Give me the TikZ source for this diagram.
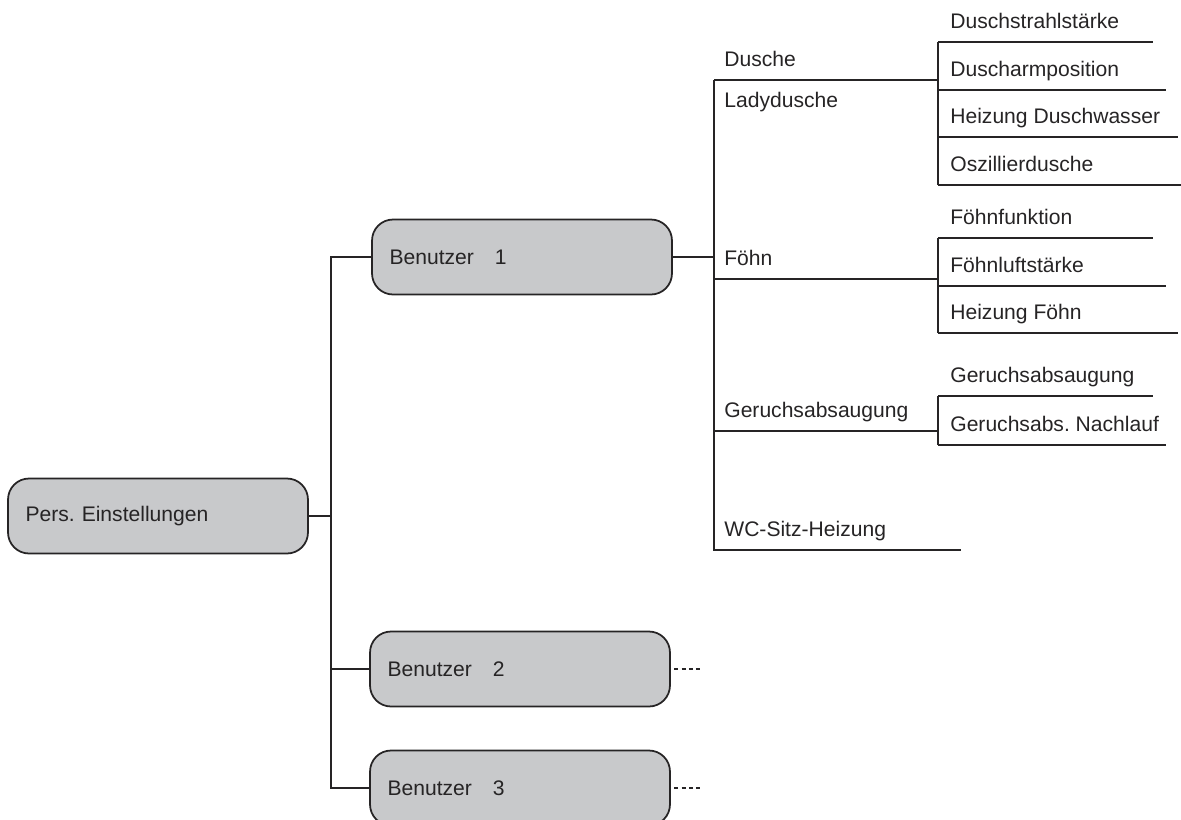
\documentclass[tikz,border=0pt]{standalone}
\usepackage{fontspec}
\setmainfont{Liberation Sans}
\frenchspacing
\usetikzlibrary{positioning}
\definecolor{boxgray}{RGB}{200,201,203}
\definecolor{inkgray}{RGB}{38,36,37}
\tikzset{
  menubox/.style={draw=inkgray, line width=1pt, fill=boxgray, rounded corners=0.42cm,
    minimum width=6cm, minimum height=1.5cm, text width=5.3cm, align=left,
    inner xsep=0.35cm, text=inkgray, font=\fontsize{12}{14}\selectfont},
  entry/.style={anchor=base west, inner sep=0pt, text=inkgray, font=\fontsize{12}{14}\selectfont},
  branch/.style={draw=inkgray, line width=0.75pt},
  more/.style={draw=inkgray, line width=0.75pt, dash pattern=on 2.3pt off 1.8pt},
}
\begin{document}
\frenchspacing
\begin{tikzpicture}[x=0.02cm, y=-0.02cm]
\useasboundingbox (0,0) rectangle (1181,819);
% main menu and users
\node[menubox] (pers) at (158,516) {Pers. Einstellungen};
\node[menubox] (ben1) at (522,257) {Benutzer\ \ \ 1};
\node[menubox] (ben2) at (520,669) {Benutzer\ \ \ 2};
\node[menubox] (ben3) at (520,788) {Benutzer\ \ \ 3};
\coordinate (tA) at (331,0);
\draw[branch] (pers.east) -- (pers.east -| tA);
\draw[branch] (ben1.west) -| (tA |- ben3.west) -- (ben3.west);
\draw[branch] (ben2.west) -- (ben2.west -| tA);
\draw[more] ([xshift=2pt]ben2.east) -- ++(26,0);
\draw[more] ([xshift=2pt]ben3.east) -- ++(26,0);
% second level
\foreach \n/\y/\txt in {dusche/80/Dusche, foehn/279/Föhn, geruch/431/Geruchsabsaugung, wc/550/WC-Sitz-Heizung}{
  \node[entry] (\n) at (724,\y-14) {\txt};
  \coordinate (\n-l) at ([shift={(-10,14)}]\n.base west);
}
\node[entry] (lady) at (724,107) {Ladydusche};
% third level
\foreach \n/\y/\len/\txt in {dA/42/215/Duschstrahlstärke, dB/90/228/Duscharmposition,
    dC/137/240/Heizung Duschwasser, dD/185/250/Oszillierdusche,
    fA/238/215/Föhnfunktion, fB/286/228/Föhnluftstärke, fC/333/240/Heizung Föhn,
    gA/396/215/Geruchsabsaugung, gB/445/228/Geruchsabs. Nachlauf}{
  \node[entry] (\n) at (950,\y-14) {\txt};
  \coordinate (\n-l) at ([shift={(-12,14)}]\n.base west);
  \draw[branch] (\n-l) -- ++(\len,0);
}
\draw[branch] (ben1.east) -- (ben1.east -| dusche-l);
\draw[branch] (dusche-l) -- (wc-l) -- ++(247,0);
\draw[branch] (dusche-l) -- (dusche-l -| dA-l);
\draw[branch] (foehn-l) -- (foehn-l -| fA-l);
\draw[branch] (geruch-l) -- (geruch-l -| gA-l);
\draw[branch] (dA-l) -- (dD-l);
\draw[branch] (fA-l) -- (fC-l);
\draw[branch] (gA-l) -- (gB-l);
\end{tikzpicture}
\end{document}
